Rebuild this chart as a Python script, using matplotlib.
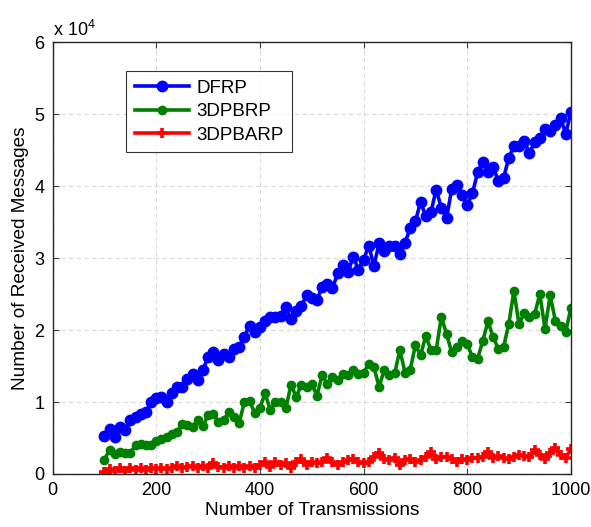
import numpy as np
import matplotlib
matplotlib.use("Agg")
import matplotlib.pyplot as plt
from matplotlib.ticker import FuncFormatter

plt.rcParams['font.family'] = ['Liberation Sans', 'DejaVu Sans']
plt.rcParams['mathtext.fontset'] = 'custom'
plt.rcParams['mathtext.rm'] = 'Liberation Sans'

transmissions = list(range(100, 1001, 10))

dfrp = [5300, 6200, 5200, 6500, 6100, 7500, 7900, 8300, 8600, 10000,
        10500, 10700, 10000, 11200, 12100, 12100, 13200, 13900, 13000, 14500,
        16200, 16900, 15800, 16700, 16300, 17400, 17600, 19100, 20600, 19700,
        20400, 21300, 21800, 21800, 22000, 23200, 21500, 22700, 23400, 24800,
        24500, 24200, 26000, 26400, 25800, 27900, 29000, 28000, 30200, 28400,
        29800, 31700, 28900, 32100, 31000, 31700, 31700, 30500, 32100, 34200,
        35100, 37800, 35800, 36400, 39500, 37000, 35500, 39600, 40200, 38700,
        37400, 39000, 41900, 43400, 42000, 42700, 40700, 41100, 43900, 45600,
        45600, 46200, 44600, 46100, 46700, 48000, 47700, 48500, 49400, 47300,
        50300]

dpbrp = [2000, 3400, 2800, 3100, 2900, 2900, 4000, 4200, 4000, 4000,
         4600, 4900, 5200, 5500, 5900, 6900, 6800, 6500, 7500, 6600,
         8200, 8400, 7200, 7500, 8600, 7900, 7100, 10000, 10100, 8500,
         9200, 11200, 8900, 10000, 10000, 9100, 12400, 10700, 12400, 12100,
         12500, 10900, 13700, 12500, 13500, 13000, 13900, 13700, 14400, 13900,
         14100, 15300, 14800, 12100, 14500, 13700, 14000, 17200, 14100, 14500,
         17900, 16500, 19200, 17200, 17200, 21800, 19500, 16900, 17600, 18500,
         18100, 16200, 16000, 18500, 21200, 19000, 17400, 17600, 20800, 25400,
         20800, 22400, 21800, 22200, 25000, 20200, 24800, 21300, 20600, 19700,
         23100]

dpbarp = [300, 650, 450, 800, 400, 800, 600, 800, 600, 900,
          700, 900, 650, 900, 1100, 800, 1000, 1100, 900, 1100,
          800, 1500, 1000, 900, 1100, 900, 1100, 900, 1100, 900,
          1300, 1700, 1000, 1700, 1300, 1500, 900, 1600, 2100, 1300,
          1600, 1500, 1600, 2200, 1600, 1200, 1600, 1900, 2100, 1600,
          1500, 1600, 2400, 2900, 2100, 1900, 2200, 1300, 1900, 2100,
          1600, 1900, 2300, 3000, 2100, 2400, 2300, 2100, 1600, 2100,
          1900, 2200, 2200, 2400, 3000, 2200, 2500, 2200, 2100, 2400,
          2700, 2500, 2300, 3300, 2600, 2100, 2900, 3600, 2700, 2200,
          3500]

x_ticks = [0, 200, 400, 600, 800, 1000]
y_ticks = [0, 10000, 20000, 30000, 40000, 50000, 60000]

fig = plt.figure(figsize=(5.91, 5.27), dpi=100)
ax = fig.add_axes([0.089, 0.1006, 0.877, 0.8194])

ax.plot(transmissions, dfrp, color='#0000ff', lw=2.6, marker='o',
        markersize=7.5, markeredgewidth=1, label='DFRP')
ax.plot(transmissions, dpbrp, color='#008000', lw=2.6, marker='o',
        markersize=6, markeredgewidth=1, label='3DPBRP')
ax.plot(transmissions, dpbarp, color='#ff0000', lw=2.6, marker='+',
        markersize=7, markeredgewidth=2.6, label='3DPBARP')

ax.set_xlim(0, 1000)
ax.set_ylim(0, 60000)
ax.set_xticks(x_ticks)
ax.set_yticks(y_ticks)
ax.yaxis.set_major_formatter(FuncFormatter(lambda v, p: f"{v/1e4:g}"))
ax.tick_params(direction='in', top=True, right=True, length=4,
               labelsize=13, color='#404040', pad=6)
for s in ax.spines.values():
    s.set_color('#262626')
    s.set_linewidth(1.0)

ax.grid(True, color='#d9d9d9', linestyle=(0, (4, 3)), linewidth=0.8)
ax.set_axisbelow(True)

ax.set_xlabel('Number of Transmissions', fontsize=13.7, labelpad=2)
ax.set_ylabel('Number of Received Messages', fontsize=13.7, labelpad=4)

ax.text(0.0, 1.006, r'x 10$^{4}$', transform=ax.transAxes, fontsize=13,
        ha='left', va='bottom')

leg = ax.legend(loc='upper left', bbox_to_anchor=(0.142, 0.933),
                fontsize=13.5, frameon=True, fancybox=False,
                edgecolor='black', handlelength=2.9, handletextpad=0.4,
                borderpad=0.45, labelspacing=0.35, borderaxespad=0)
leg.get_frame().set_linewidth(0.8)

fig.savefig('out.png', dpi=100)
